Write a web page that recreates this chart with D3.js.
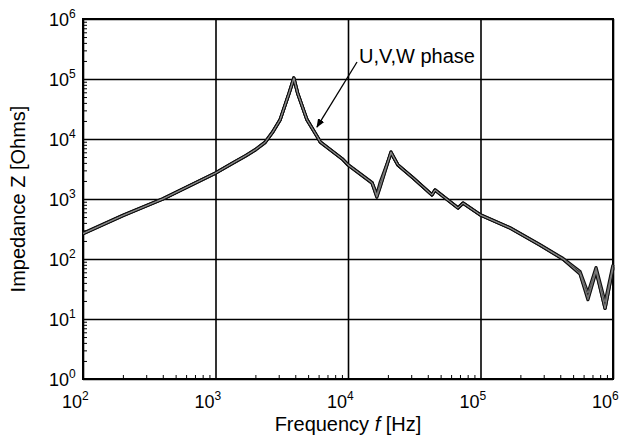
<!DOCTYPE html>
<html>
<head>
<meta charset="utf-8">
<script src="https://cdn.jsdelivr.net/npm/d3@7"></script>
<style>
  body { margin: 0; background: #fff; }
  text { font-family: "Liberation Sans", Arial, sans-serif; fill: #000; }
</style>
</head>
<body>
<script>
// ---- data ----
const freqs = [100, 200, 400, 1000, 1360, 1700, 2000, 2370, 2700, 3070, 3590, 3900, 4170, 4900, 5940, 6170, 9100, 10000, 15200, 16500, 17500, 21100, 23800, 31000, 43000, 45400, 67600, 73800, 100000, 167000, 281000, 420000, 564000, 647000, 745000, 871000, 1000000];
const zU = [265, 530, 1000, 2700, 4000, 5300, 6600, 8800, 13000, 20800, 58000, 105000, 58000, 21000, 10400, 8900, 4600, 3700, 1850, 1070, 1580, 6000, 3690, 2240, 1170, 1410, 708, 853, 541, 329, 171, 100, 58, 23, 66, 15, 74];
const zV = [268, 535, 1010, 2720, 4050, 5350, 6700, 8900, 13200, 21000, 57000, 100000, 57000, 21200, 10500, 9000, 4650, 3750, 1880, 1180, 1900, 5800, 3700, 2260, 1180, 1420, 712, 860, 545, 332, 173, 102, 62, 27, 72, 19, 80];
const zW = [262, 525, 995, 2690, 3980, 5250, 6550, 8700, 12900, 20600, 58500, 104000, 58500, 20800, 10300, 8850, 4580, 3680, 1840, 1110, 1650, 6100, 3680, 2230, 1165, 1400, 705, 848, 538, 327, 170, 99, 56, 21, 62, 15, 70];
const seriesNames = ["U", "V", "W"];
const xTicks = [1e2, 1e3, 1e4, 1e5, 1e6];
const yTicks = [1e0, 1e1, 1e2, 1e3, 1e4, 1e5, 1e6];
const xLabel = "Frequency ";
const xLabelItalic = "f";
const xLabelUnit = " [Hz]";
const yLabel = "Impedance Z [Ohms]";
const annotation = { text: "U,V,W phase", textF: 12100, textZ: 185000, fromF: 11700, fromZ: 192000, toF: 5830, toZ: 15800 };

// ---- layout ----
const W = 629, H = 439;
const L = 83, R = 613, T = 19, B = 379;

const svg = d3.select("body").append("svg").attr("width", W).attr("height", H);

const x = d3.scaleLog().domain([1e2, 1e6]).range([L, R]);
const y = d3.scaleLog().domain([1e0, 1e6]).range([B, T]);

// minor ticks
const xMinor = [];
for (let e = 2; e < 6; e++) for (let m = 2; m <= 9; m++) xMinor.push(m * Math.pow(10, e));
const yMinor = [];
for (let e = 0; e < 6; e++) for (let m = 2; m <= 9; m++) yMinor.push(m * Math.pow(10, e));

const gxm = svg.append("g").attr("transform", `translate(0,${B})`)
  .call(d3.axisBottom(x).tickValues(xMinor).tickSize(-4).tickFormat(""));
const gym = svg.append("g").attr("transform", `translate(${L},0)`)
  .call(d3.axisLeft(y).tickValues(yMinor).tickSize(-4).tickFormat(""));
[gxm, gym].forEach(g => {
  g.select(".domain").remove();
  g.selectAll("line").attr("stroke", "#000").attr("stroke-width", 1);
});

// grid lines
const gxg = svg.append("g").attr("transform", `translate(0,${B})`)
  .call(d3.axisBottom(x).tickValues(xTicks).tickSize(-(B - T)).tickFormat(""));
const gyg = svg.append("g").attr("transform", `translate(${L},0)`)
  .call(d3.axisLeft(y).tickValues(yTicks).tickSize(-(R - L)).tickFormat(""));
[gxg, gyg].forEach(g => {
  g.select(".domain").remove();
  g.selectAll("line").attr("stroke", "#000").attr("stroke-width", 1.6);
});

// frame
svg.append("rect").attr("x", L).attr("y", T).attr("width", R - L).attr("height", B - T)
  .attr("fill", "none").attr("stroke", "#000").attr("stroke-width", 2);

// tick labels
const xl = svg.append("g").selectAll("text").data(xTicks).join("text")
  .attr("x", d => x(d) - 21).attr("y", 408).attr("font-size", 18);
xl.append("tspan").text("10");
xl.append("tspan").attr("dy", -8).attr("font-size", 12).text(d => Math.round(Math.log10(d)));

const yl = svg.append("g").selectAll("text").data(yTicks).join("text")
  .attr("x", L - 34).attr("y", d => y(d) + 7).attr("font-size", 18);
yl.append("tspan").text("10");
yl.append("tspan").attr("dy", -8).attr("font-size", 12).text(d => Math.round(Math.log10(d)));

// axis titles
const xt = svg.append("text").attr("x", (L + R) / 2).attr("y", 431)
  .attr("text-anchor", "middle").attr("font-size", 20);
xt.append("tspan").text(xLabel);
xt.append("tspan").attr("font-style", "italic").text(xLabelItalic);
xt.append("tspan").text(xLabelUnit);

svg.append("text").attr("transform", `translate(25,${(T + B) / 2}) rotate(-90)`)
  .attr("text-anchor", "middle").attr("font-size", 20).text(yLabel);

// curves
const series = [zU, zV, zW].map((vals, i) => ({ name: seriesNames[i], pts: freqs.map((f, j) => [f, vals[j]]) }));
const line = d3.line().x(d => x(d[0])).y(d => y(d[1]));
const cg = svg.append("g");
cg.selectAll("path.outer").data(series).join("path").attr("class", "outer")
  .attr("d", d => line(d.pts)).attr("fill", "none").attr("stroke", "#111")
  .attr("stroke-width", 3.2).attr("stroke-linejoin", "round");
cg.selectAll("path.inner").data(series).join("path").attr("class", "inner")
  .attr("d", d => line(d.pts)).attr("fill", "none").attr("stroke", "#8a8a8a")
  .attr("stroke-width", 0.8).attr("stroke-linejoin", "round");

// annotation arrow
const defs = svg.append("defs");
defs.append("marker").attr("id", "ah").attr("viewBox", "0 0 10 10").attr("refX", 9).attr("refY", 5)
  .attr("markerWidth", 9).attr("markerHeight", 9).attr("markerUnits", "userSpaceOnUse").attr("orient", "auto")
  .append("path").attr("d", "M0,1 L10,5 L0,9 z").attr("fill", "#000");
svg.append("line")
  .attr("x1", x(annotation.fromF)).attr("y1", y(annotation.fromZ))
  .attr("x2", x(annotation.toF)).attr("y2", y(annotation.toZ))
  .attr("stroke", "#000").attr("stroke-width", 1.3).attr("marker-end", "url(#ah)");
svg.append("text").attr("x", x(annotation.textF)).attr("y", y(annotation.textZ))
  .attr("font-size", 20).text(annotation.text);
</script>
</body>
</html>
